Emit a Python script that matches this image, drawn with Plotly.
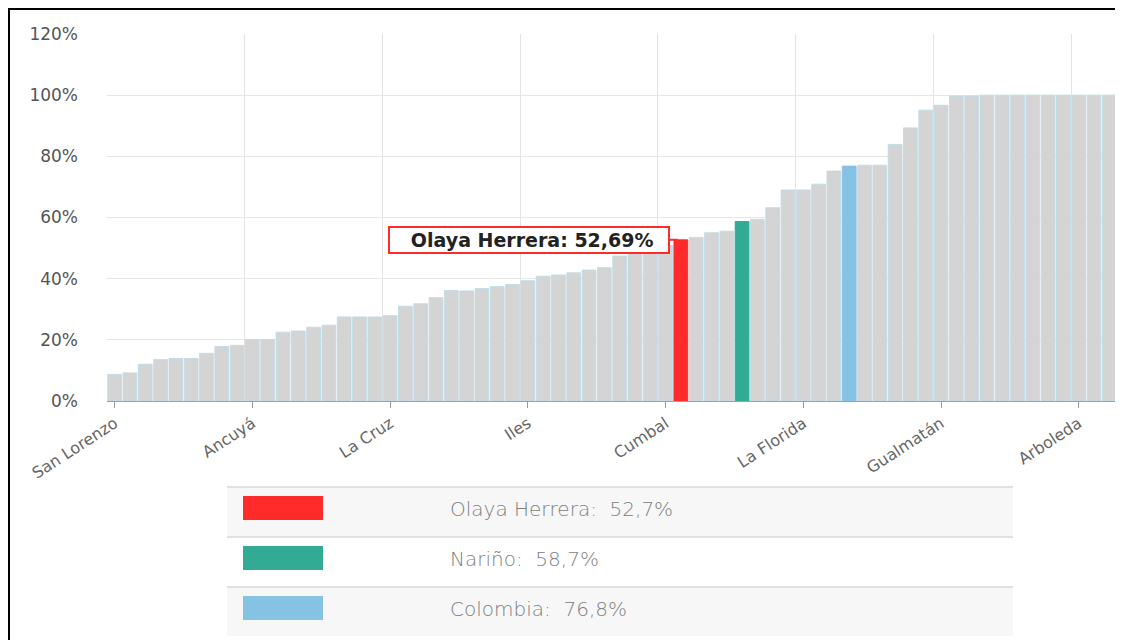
import plotly.graph_objects as go

# ---------------- data ----------------
values = [8.7, 9.2, 12.0, 13.6, 13.9, 13.9, 15.6, 17.8, 18.2,
          20.1, 20.1, 22.5, 22.9, 24.1, 24.8, 27.5, 27.5, 27.5,
          27.9, 31.0, 31.8, 33.8, 36.1, 36.0, 36.8, 37.4, 38.1,
          39.3, 40.8, 41.2, 41.9, 42.8, 43.6, 47.4, 48.6, 49.5,
          50.9, 52.69, 53.5, 55.0, 55.5, 58.7, 59.4, 63.2, 69.0,
          69.0, 70.9, 75.2, 76.8, 77.1, 77.1, 83.9, 89.3, 95.1,
          96.7, 99.7, 99.7, 100, 100, 100, 100, 100, 100, 100, 100, 100]

labeled = {0: "San Lorenzo", 9: "Ancuyá", 18: "La Cruz", 27: "Iles",
           36: "Cumbal", 45: "La Florida", 54: "Gualmatán", 63: "Arboleda",
           37: "Olaya Herrera", 41: "Nariño", 48: "Colombia"}
names = [labeled.get(i, f"Municipio {i + 1}") for i in range(len(values))]

tick_idx = [0, 9, 18, 27, 36, 45, 54, 63]
tick_text = [names[i] for i in tick_idx]

highlight = ["Olaya Herrera", "Nariño", "Colombia"]
highlight_colors = ["#ff2a2a", "#33ab94", "#86c2e4"]
legend_values = ["52,7%", "58,7%", "76,8%"]
callout_text = "Olaya Herrera: 52,69%"

y_ticks = [0, 20, 40, 60, 80, 100, 120]
y_ticktext = [f"{v}%" for v in y_ticks]

# ---------------- layout helpers ----------------
OFF = 8                      # page body margin
W, H = 1123 - OFF, 640 - OFF
ML, MR, MT, MB = 107 - OFF, 6, 34 - OFF, 239
PW, PH = W - ML - MR, H - MT - MB


def px(x):                   # page x -> paper x
    return (x - OFF - ML) / PW


def py(y):                   # page y -> paper y
    return (H - MB - (y - OFF)) / PH


idx = list(range(len(values)))
colors = []
for n in names:
    colors.append(highlight_colors[highlight.index(n)] if n in highlight else "#d4d4d4")
lines = ["rgba(190,220,232,0.9)" if n not in highlight else c for n, c in zip(names, colors)]

fig = go.Figure()
fig.add_trace(go.Bar(
    x=idx, y=values, marker=dict(color=colors, line=dict(color=lines, width=1)),
    hovertext=names, hovertemplate="%{hovertext}: %{y}%<extra></extra>",
    showlegend=False))

fig.update_layout(
    width=W, height=H, margin=dict(l=ML, r=MR, t=MT, b=MB, autoexpand=False),
    paper_bgcolor="white", plot_bgcolor="white", bargap=0.1,
    font=dict(family="DejaVu Sans", color="#555"),
)
fig.update_xaxes(
    range=[-0.5, len(values) - 0.5], tickmode="array", tickvals=tick_idx,
    ticktext=tick_text, tickangle=-33, showgrid=False, ticks="outside",
    ticklen=6, tickcolor="#999", tickfont=dict(size=16, color="#666"),
    showline=True, linecolor="#a0a0a0", linewidth=1, zeroline=False,
    minor=dict(tickmode="array", tickvals=[i - 0.5 for i in tick_idx if i > 0] + [-0.5],
               showgrid=True, gridcolor="#e3e3e3", gridwidth=1, ticks=""),
)
fig.update_yaxes(
    range=[0, 120], tickmode="array", tickvals=y_ticks, ticktext=y_ticktext,
    showgrid=True, gridcolor="#e6e6e6", gridwidth=1, zeroline=False,
    tickfont=dict(size=17, color="#555"), ticklabelstandoff=28,
)

# callout for Olaya Herrera
ci = names.index("Olaya Herrera")
fig.add_annotation(
    x=ci - 0.2, y=values[ci], xref="x", yref="y",
    text="<b>&nbsp;&nbsp;&nbsp;" + callout_text + "&nbsp;&nbsp;</b>",
    showarrow=True, arrowhead=0, arrowwidth=2, arrowcolor="#ff2a2a",
    ax=-8, ay=0, xanchor="right", yanchor="middle",
    bgcolor="white", bordercolor="#ff2a2a", borderwidth=2, borderpad=1,
    font=dict(family="DejaVu Sans", size=19, color="#222"),
)

# legend table below the chart
shapes = []
annos = []
row_tops = [487, 537, 587]
row_h = 49
for k, (nm, col, val) in enumerate(zip(highlight, highlight_colors, legend_values)):
    top = row_tops[k]
    shapes.append(dict(type="rect", xref="paper", yref="paper",
                       x0=px(227), x1=px(1013), y0=py(top + row_h), y1=py(top),
                       fillcolor="#f7f7f7" if k != 1 else "white",
                       line=dict(width=0), layer="below"))
    shapes.append(dict(type="line", xref="paper", yref="paper",
                       x0=px(227), x1=px(1013), y0=py(top), y1=py(top),
                       line=dict(color="#e2e2e2", width=2)))
    shapes.append(dict(type="rect", xref="paper", yref="paper",
                       x0=px(243), x1=px(323), y0=py(top + 33), y1=py(top + 9),
                       fillcolor=col, line=dict(width=0)))
    annos.append(dict(xref="paper", yref="paper", x=px(448), y=py(top + 22),
                      xanchor="left", yanchor="middle", showarrow=False,
                      text=f"{nm}:&nbsp;&nbsp;{val}",
                      font=dict(family="DejaVu Sans", size=20, color="#808080", weight=200)))

# outer frame (black border of the original screenshot)
shapes.append(dict(type="line", xref="paper", yref="paper", x0=px(8), x1=px(1121),
                   y0=py(9), y1=py(9), line=dict(color="black", width=2)))
shapes.append(dict(type="line", xref="paper", yref="paper", x0=px(9), x1=px(9),
                   y0=py(8), y1=py(640), line=dict(color="black", width=2)))
shapes.append(dict(type="line", xref="paper", yref="paper", x0=px(1120), x1=px(1120),
                   y0=py(8), y1=py(640), line=dict(color="black", width=2)))

fig.update_layout(shapes=shapes)
for a in annos:
    fig.add_annotation(**a)

fig.write_html("out.html")
